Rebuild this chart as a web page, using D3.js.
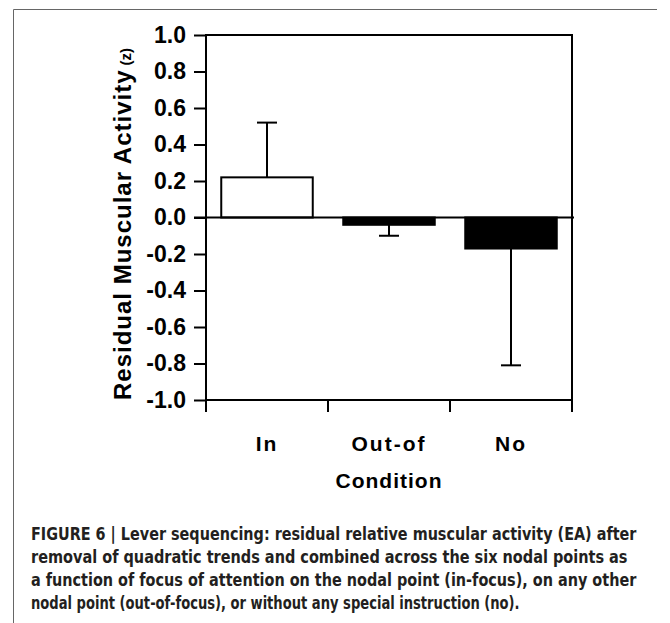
<!DOCTYPE html>
<html>
<head>
<meta charset="utf-8">
<script src="https://cdn.jsdelivr.net/npm/d3@7"></script>
<style>
  body { margin: 0; background: #fff; }
  svg { display: block; }
</style>
</head>
<body>
<svg width="670" height="623"></svg>
<script>
// chart data
const conditions = ['In', 'Out-of', 'No'];
const means = [0.22, -0.04, -0.17];
const errors = [0.30, 0.06, 0.64];
const yTicks = [1.0, 0.8, 0.6, 0.4, 0.2, 0.0, -0.2, -0.4, -0.6, -0.8, -1.0];
const captionLines = [
  'FIGURE 6 | Lever sequencing: residual relative muscular activity (EA) after',
  'removal of quadratic trends and combined across the six nodal points as',
  'a function of focus of attention on the nodal point (in-focus), on any other',
  'nodal point (out-of-focus), or without any special instruction (no).'
];
const captionWidths = [606, 597, 606, 489];

const svg = d3.select('svg');
const plot = { left: 206, right: 572, top: 35, bottom: 400 };
const font = '"Liberation Sans", Arial, sans-serif';

// frame of the figure panel
svg.append('path')
  .attr('d', `M13.5,623 V9.5 H657`)
  .attr('fill', 'none')
  .attr('stroke', '#666')
  .attr('stroke-width', 1);

const y = d3.scaleLinear().domain([-1, 1]).range([plot.bottom, plot.top]);
const x = d3.scaleBand()
  .domain(conditions)
  .range([plot.left, plot.right])
  .paddingInner(0.25)
  .paddingOuter(0.125);

// box around plot
svg.append('rect')
  .attr('x', plot.left)
  .attr('y', plot.top)
  .attr('width', plot.right - plot.left)
  .attr('height', plot.bottom - plot.top)
  .attr('fill', 'none')
  .attr('stroke', '#000')
  .attr('stroke-width', 2);

// y axis
const yAxis = svg.append('g')
  .attr('transform', `translate(${plot.left},0)`)
  .call(d3.axisLeft(y).tickValues(yTicks).tickSize(12).tickPadding(8)
    .tickFormat(d => d.toFixed(1)));
yAxis.select('.domain').remove();
yAxis.selectAll('.tick line').attr('stroke', '#000').attr('stroke-width', 2);
yAxis.selectAll('.tick text')
  .attr('fill', '#000')
  .style('font-family', font)
  .style('font-weight', 'bold')
  .style('font-size', '23px');

// x axis ticks at band edges
const edges = conditions.map(c => x(c) - x.step() * x.paddingInner() / 2)
  .concat([plot.right]);
svg.append('g').selectAll('line')
  .data(edges)
  .enter()
  .append('line')
  .attr('x1', d => d).attr('x2', d => d)
  .attr('y1', plot.bottom).attr('y2', plot.bottom + 12)
  .attr('stroke', '#000')
  .attr('stroke-width', 2);

svg.append('g').selectAll('text')
  .data(conditions)
  .enter()
  .append('text')
  .attr('x', d => x(d) + x.bandwidth() / 2)
  .attr('y', 451)
  .attr('text-anchor', 'middle')
  .style('font-family', font)
  .style('font-weight', 'bold')
  .style('font-size', '21px')
  .style('letter-spacing', '2px')
  .text(d => d);

svg.append('text')
  .attr('x', (plot.left + plot.right) / 2)
  .attr('y', 488)
  .attr('text-anchor', 'middle')
  .style('font-family', font)
  .style('font-weight', 'bold')
  .style('font-size', '21px')
  .style('letter-spacing', '1px')
  .text('Condition');

// y title
const yTitle = svg.append('text')
  .attr('transform', 'translate(131,224) rotate(-90)')
  .attr('text-anchor', 'middle')
  .style('font-family', font)
  .style('font-weight', 'bold')
  .style('font-size', '24px');
yTitle.append('tspan').style('letter-spacing', '1px').text('Residual Muscular Activity');
yTitle.append('tspan').attr('dx', 4).style('font-size', '15px').text('(z)');

// bars
const bars = conditions.map((c, i) => ({ c, v: means[i], e: errors[i] }));
svg.append('g').selectAll('rect')
  .data(bars)
  .enter()
  .append('rect')
  .attr('x', d => x(d.c))
  .attr('width', x.bandwidth())
  .attr('y', d => y(Math.max(0, d.v)))
  .attr('height', d => Math.abs(y(d.v) - y(0)))
  .attr('fill', d => d.v >= 0 ? '#fff' : '#000')
  .attr('stroke', '#000')
  .attr('stroke-width', 2);

// one-sided error bars
const errG = svg.append('g').attr('stroke', '#000').attr('stroke-width', 2);
bars.forEach(d => {
  const cx = x(d.c) + x.bandwidth() / 2;
  const end = d.v >= 0 ? d.v + d.e : d.v - d.e;
  errG.append('line')
    .attr('x1', cx).attr('x2', cx)
    .attr('y1', y(d.v)).attr('y2', y(end));
  errG.append('line')
    .attr('x1', cx - 10).attr('x2', cx + 10)
    .attr('y1', y(end)).attr('y2', y(end));
});

// zero line
svg.append('line')
  .attr('x1', plot.left - 12).attr('x2', plot.right + 2)
  .attr('y1', y(0)).attr('y2', y(0))
  .attr('stroke', '#000')
  .attr('stroke-width', 2);

// caption: condensed look by squeezing each line to its width
svg.append('g').selectAll('text')
  .data(captionLines)
  .enter()
  .append('text')
  .attr('fill', '#231f20')
  .style('font-family', '"Liberation Sans Narrow", "DejaVu Sans Condensed", "Liberation Sans", sans-serif')
  .style('font-weight', 'bold')
  .style('font-size', '18px')
  .text(d => d)
  .attr('transform', function (d, i) {
    const k = captionWidths[i] / this.getComputedTextLength();
    return `translate(31,${540 + i * 23}) scale(${k},1)`;
  });
</script>
</body>
</html>
